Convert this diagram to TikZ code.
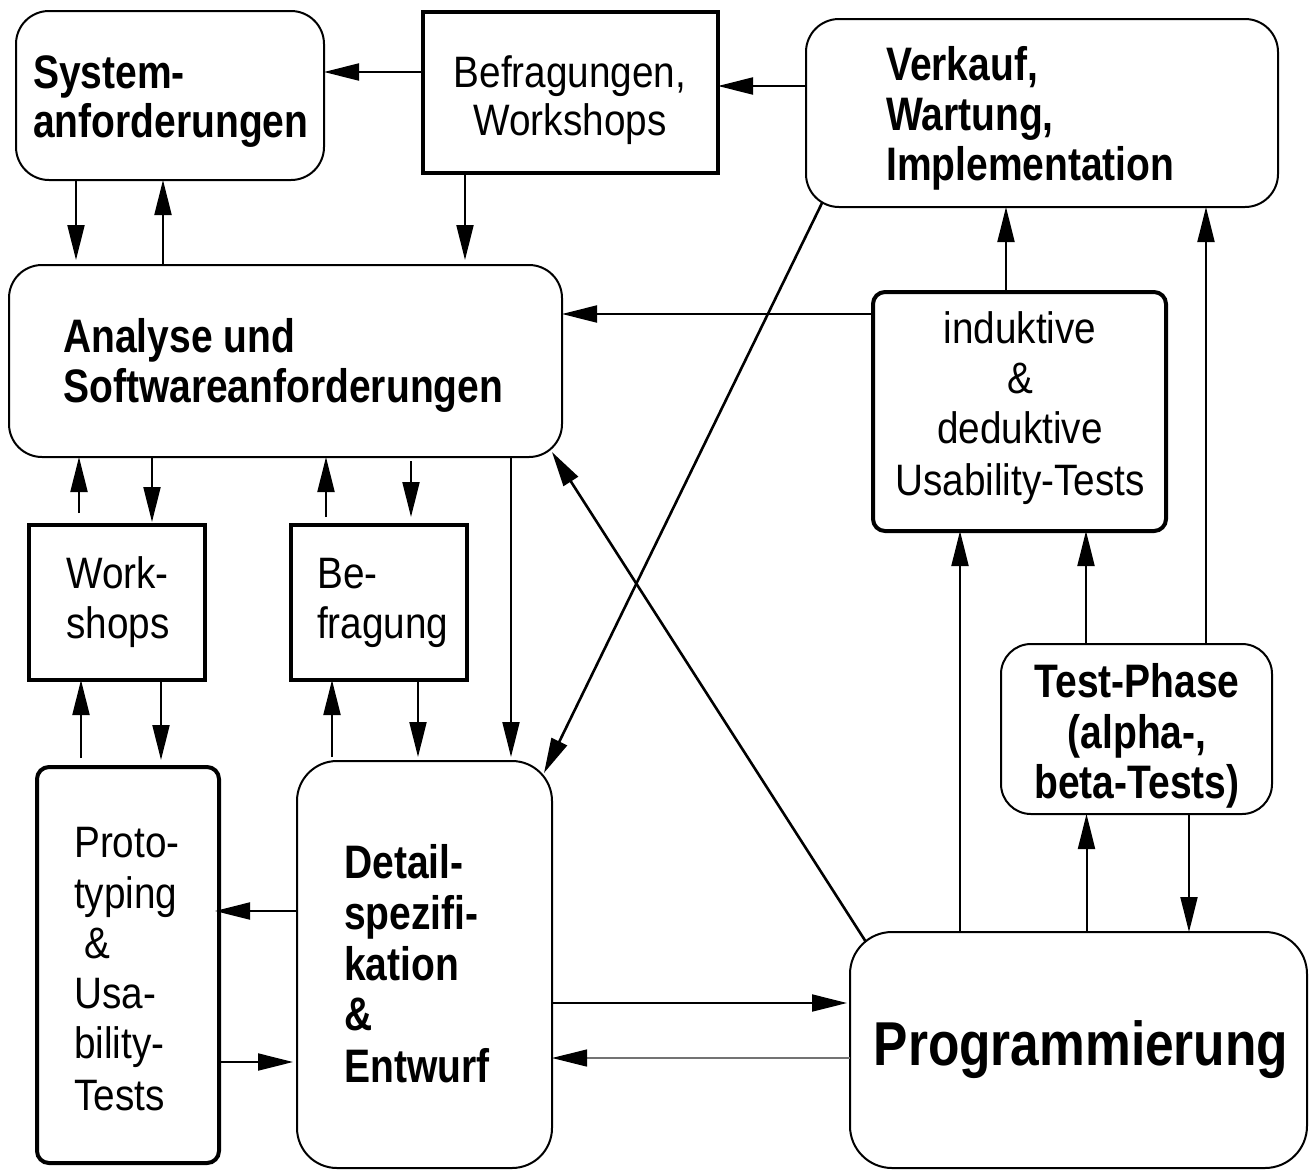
\documentclass[tikz,border=0pt]{standalone}
\usepackage{fontspec}
\setmainfont[FakeStretch=0.88]{Liberation Sans}
\newfontfamily\bfam[FakeStretch=0.83]{Liberation Sans}
\usetikzlibrary{arrows.meta}
\newcommand\txtrg{\fontsize{44}{50}\selectfont}
\newcommand\txtbd{\bfam\bfseries\fontsize{47}{50}\selectfont}
\newcommand\txtbig{\bfam\bfseries\fontsize{62}{66}\selectfont}
\begin{document}
\begin{tikzpicture}[x=1pt,y=-1pt,
  sbox/.style={draw, line width=2pt, rounded corners=33pt, inner sep=0pt, outer sep=0pt},
  kbox/.style={draw, line width=4pt, inner sep=0pt, outer sep=0pt},
  krbox/.style={draw, line width=4pt, rounded corners=12pt, inner sep=0pt, outer sep=0pt},
  arr/.style={line width=2pt, -{Triangle[length=35pt,width=17pt]}},
  diag/.style={line width=2.6pt, -{Triangle[length=35pt,width=17pt]}},
  txt/.style={inner sep=0pt, anchor=base west},
  ctxt/.style={inner sep=0pt, anchor=base}]
\useasboundingbox (0,0) rectangle (1314,1171);

% boxes
\node[sbox, minimum width=308pt, minimum height=169pt] (sys) at (170,95.5) {};
\node[kbox, minimum width=295pt, minimum height=161pt] (befw) at (570.5,92.5) {};
\node[sbox, minimum width=472pt, minimum height=188pt] (verk) at (1042,113) {};
\node[sbox, minimum width=553pt, minimum height=192pt] (ana) at (285.5,361) {};
\node[krbox, minimum width=293pt, minimum height=239pt] (ind) at (1019.5,411.5) {};
\node[kbox, minimum width=176pt, minimum height=155pt] (ws) at (117,602.5) {};
\node[kbox, minimum width=176pt, minimum height=155pt] (bef) at (379,602.5) {};
\node[sbox, rounded corners=30pt, minimum width=271pt, minimum height=170pt] (test) at (1136.5,729) {};
\node[krbox, minimum width=182pt, minimum height=396pt] (proto) at (128,965) {};
\node[sbox, rounded corners=40pt, minimum width=255pt, minimum height=407pt] (det) at (424.5,964.5) {};
\node[sbox, rounded corners=42pt, minimum width=457pt, minimum height=236pt] (prog) at (1078.5,1050) {};

% texts
\node[txt, font=\txtbd] (sysA) at (33,88) {System-};
\node[txt, font=\txtbd] (sysB) at (33,137) {anforderungen};
\node[ctxt, font=\txtrg] (bwA) at (570,87) {Befragungen,};
\node[ctxt, font=\txtrg] (bwB) at (570,135) {Workshops};
\node[txt, font=\txtbd] (vkA) at (886,80) {Verkauf,};
\node[txt, font=\txtbd] (vkB) at (886,130) {Wartung,};
\node[txt, font=\txtbd] (vkC) at (886,180) {Implementation};
\node[txt, font=\txtbd] (anA) at (63,352) {Analyse und};
\node[txt, font=\txtbd] (anB) at (63,402) {Softwareanforderungen};
\node[ctxt, font=\txtrg] (inA) at (1020,343) {induktive};
\node[ctxt, font=\txtrg] (inB) at (1020,393) {\&};
\node[ctxt, font=\txtrg] (inC) at (1020,443) {deduktive};
\node[ctxt, font=\txtrg] (inD) at (1020,495) {Usability-Tests};
\node[txt, font=\txtrg] (wsA) at (66,588) {Work-};
\node[txt, font=\txtrg] (wsB) at (66,638) {shops};
\node[txt, font=\txtrg] (beA) at (317,588) {Be-};
\node[txt, font=\txtrg] (beB) at (317,638) {fragung};
\node[ctxt, font=\txtbd] (tpA) at (1137,697) {Test-Phase};
\node[ctxt, font=\txtbd] (tpB) at (1137,748) {(alpha-,};
\node[ctxt, font=\txtbd] (tpC) at (1137,798) {beta-Tests)};
\node[txt, font=\txtrg] (prA) at (74,857) {Proto-};
\node[txt, font=\txtrg] (prB) at (74,908) {typing};
\node[txt, font=\txtrg] (prC) at (84,958) {\&};
\node[txt, font=\txtrg] (prD) at (74,1008) {Usa-};
\node[txt, font=\txtrg] (prE) at (74,1058) {bility-};
\node[txt, font=\txtrg] (prF) at (74,1110) {Tests};
\node[txt, font=\txtbd] (dtA) at (344,878) {Detail-};
\node[txt, font=\txtbd] (dtB) at (344,929) {spezifi-};
\node[txt, font=\txtbd] (dtC) at (344,980) {kation};
\node[txt, font=\txtbd] (dtD) at (344,1030) {\&};
\node[txt, font=\txtbd] (dtE) at (344,1082) {Entwurf};
\node[ctxt, font=\txtbig] (pgA) at (1081,1065) {Programmierung};

% connectors (top row)
\draw[arr] ([yshift=20.5pt]befw.west) -- ([yshift=23.5pt]sys.east);
\draw[arr] ([yshift=27pt]verk.west) -- ([yshift=6.5pt]befw.east);
\draw[arr] ([xshift=-94pt]sys.south) -- ([xshift=-209.5pt, yshift=5pt]ana.north);
\draw[arr] ([xshift=-122.5pt]ana.north) -- ([xshift=-7pt]sys.south);
\draw[arr] ([xshift=-105.5pt]befw.south) -- ([xshift=179.5pt, yshift=5pt]ana.north);
\draw[arr] ([xshift=-13.5pt]ind.north) -- ([xshift=-36pt]verk.south);
\draw[arr] ([xshift=69.5pt]test.north) -- ([xshift=164pt]verk.south);
\draw[arr] ([yshift=97.5pt]ind.west) -- ([yshift=47pt]ana.east);

% Analyse <-> Workshops / Befragung / Detail
\draw[arr] ([xshift=-38pt, yshift=12pt]ws.north) -- ([xshift=-206.5pt]ana.south);
\draw[arr] ([xshift=-133.5pt]ana.south) -- ([xshift=35pt, yshift=3pt]ws.north);
\draw[arr] ([xshift=-53pt, yshift=8pt]bef.north) -- ([xshift=40.5pt]ana.south);
\draw[arr] ([xshift=125.5pt, yshift=-4pt]ana.south) -- ([xshift=32pt, yshift=8pt]bef.north);
\draw[arr] ([xshift=225.5pt]ana.south) -- ([xshift=86.5pt, yshift=4pt]det.north);

% Workshops / Befragung <-> Prototyping / Detail
\draw[arr] ([xshift=44pt]ws.south) -- ([xshift=33pt, yshift=7pt]proto.north);
\draw[arr] ([xshift=-47pt, yshift=9pt]proto.north) -- ([xshift=-36pt]ws.south);
\draw[arr] ([xshift=-92.5pt, yshift=4pt]det.north) -- ([xshift=-47pt]bef.south);
\draw[arr] ([xshift=39pt]bef.south) -- ([xshift=-6.5pt, yshift=4pt]det.north);

% diagonals
\draw[diag] ([xshift=16pt, yshift=4pt]verk.south west) -- ([xshift=-8pt, yshift=-12pt]det.north east);
\draw[diag] ([xshift=16pt, yshift=-10pt]prog.north west) -- ([xshift=-10pt, yshift=5pt]ana.south east);

% right side
\draw[arr] ([xshift=-118.5pt]prog.north) -- ([xshift=-59.5pt]ind.south);
\draw[arr] ([xshift=-50.5pt]test.north) -- ([xshift=66.5pt]ind.south);
\draw[arr] ([xshift=8pt]prog.north) -- ([xshift=-50pt]test.south);
\draw[arr] ([xshift=52.5pt]test.south) -- ([xshift=110.5pt]prog.north);

% bottom row
\draw[arr] ([yshift=53.5pt]det.west) -- ([xshift=-4pt, yshift=54pt]proto.east);
\draw[arr] ([yshift=-97pt]proto.east) -- ([xshift=-4pt, yshift=-97.5pt]det.west);
\draw[arr] ([yshift=-38.5pt]det.east) -- ([xshift=-3pt, yshift=47pt]prog.west);
\draw[line width=1.2pt, draw=black!55, -{Triangle[length=35pt,width=17pt,color=black]}] ([yshift=-8pt]prog.west) -- ([yshift=-93.5pt]det.east);
\end{tikzpicture}
\end{document}
